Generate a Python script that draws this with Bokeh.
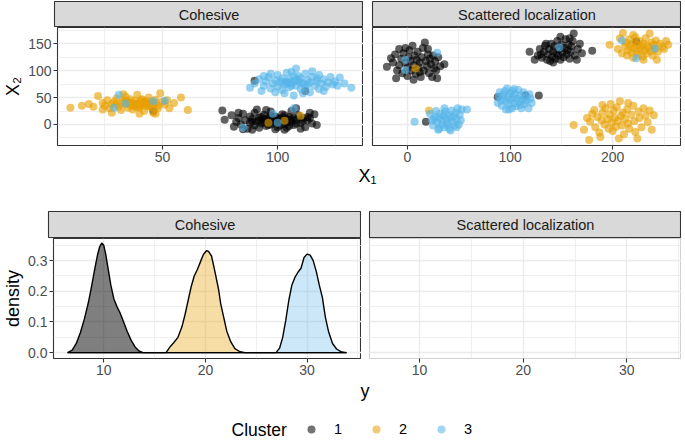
from bokeh.plotting import figure
from bokeh.layouts import column, row
from bokeh.models import Range1d, FixedTicker, Label, Legend, LegendItem, Grid, NumeralTickFormatter
from bokeh.core.properties import value
from bokeh.embed import file_html
from bokeh.resources import INLINE

FONT = "Liberation Sans"
COLORS = {"1": "#000000", "2": "#E69F00", "3": "#56B4E9"}
cluster_labels = ["1", "2", "3"]
facet_labels = ["Cohesive", "Scattered localization"]

# ---------------- scatter data (X1, X2) ----------------
cohesive_c1 = [(76,26),(77,9),(80,17),(81,-4),(82,5),(83,12),(84,0),(85,20),(86,8),(87,-8),
               (88,3),(88,15),(89,10),(90,-2),(90,22),(91,6),(92,13),(92,-6),(93,2),(94,9),
               (94,18),(95,-3),(96,5),(96,12),(97,0),(97,24),(98,8),(99,-9),(99,15),(100,4),
               (100,11),(101,-2),(102,7),(102,19),(103,1),(104,10),(104,-6),(105,14),(106,5),(106,25),
               (107,-1),(108,9),(108,30),(109,17),(110,3),(111,12),(112,-5),(113,8),(114,22),(115,2),
               (116,19),(117,-1),(95,27),(89,-10),(85,-9),(110,-8),(91,28),(103,-10),(114,12),(83,22),
               (92,8),(95,10),(98,3),(101,9),(104,4),(107,12),(93,14),(96,-1),(99,6),(102,13),
               (105,-3),(108,2),(111,7),(94,4),(97,16),(100,-5),(103,17),(106,10),(89,5),(113,14),
               (90,81),(112,62),(46,25)]
cohesive_c2 = [(10,31),(18,38),(20,33),(22,53),(24,40),(25,35),(26,45),(27,30),(28,38),(29,42),
               (30,36),(30,48),(31,33),(32,40),(32,27),(33,44),(34,38),(34,52),(35,31),(35,42),
               (36,36),(36,47),(37,40),(37,28),(38,34),(38,44),(39,38),(39,55),(40,41),(40,31),
               (41,36),(41,47),(42,39),(42,25),(43,43),(43,34),(44,38),(44,50),(45,32),(45,42),
               (46,36),(46,22),(47,40),(47,46),(48,35),(48,30),(49,58),(50,42),(51,37),(52,45),
               (53,30),(55,40),(58,50),(61,27),(28,22),(33,56),(40,20),(47,20),(24,28),(15,35),
               (36,40),(38,38),(40,36),(42,42),(44,35),(34,44),(39,32),(41,45),(37,35),(43,39),
               (96,3),(103,7),(110,16)]
cohesive_c3 = [(88,68),(90,76),(92,84),(93,62),(94,72),(95,80),(96,88),(97,67),(98,76),(99,82),
               (100,70),(100,92),(101,78),(102,64),(102,86),(103,74),(104,80),(104,96),(105,69),(105,84),
               (106,76),(107,54),(107,90),(108,72),(108,104),(109,80),(110,66),(110,86),(111,76),(112,94),
               (112,70),(113,82),(114,60),(114,78),(115,88),(116,72),(117,80),(118,66),(118,92),(119,76),
               (120,84),(121,70),(122,78),(123,88),(124,74),(125,80),(127,87),(129,76),(132,68),(97,94),
               (103,58),(115,99),(120,62),(111,58),(99,60),(106,98),(126,72),(94,90),(117,86),(109,90),
               (104,76),(107,80),(110,78),(106,72),(102,80),(108,84),(113,74),(105,78),
               (31,55),(34,39),(29,31),(46,43),(51,44),(98,20),(100,3),(85,-6),(107,30)]

scattered_c1 = [(-20,107),(-16,123),(-14,115),(-12,130),(-11,86),(-10,100),(-8,140),(-8,110),(-6,122),(-5,95),
                (-4,132),(-2,114),(0,90),(0,105),(1,125),(2,138),(3,118),(4,100),(5,146),(6,110),
                (7,128),(8,94),(9,120),(10,135),(11,106),(12,115),(13,88),(14,125),(15,142),(16,100),
                (17,152),(18,118),(19,108),(20,130),(21,95),(22,122),(23,112),(24,88),(25,128),(26,104),
                (27,117),(29,86),(30,125),(32,108),(36,112),(-2,142),(12,97),(6,83),(20,140),(28,100),
                (119,135),(124,120),(127,128),(129,140),(131,124),(133,135),(134,146),(136,120),(137,130),(138,140),
                (139,118),(140,150),(141,126),(142,136),(143,145),(144,122),(145,132),(146,155),(147,128),(148,140),
                (149,120),(150,148),(151,134),(152,125),(153,142),(154,158),(155,130),(156,138),(157,148),(158,122),
                (159,135),(160,145),(161,155),(162,169),(163,128),(165,120),(166,140),(168,150),(170,132),(180,137),
                (149,163),(135,150),(142,115),(158,160),(130,130),
                (88,51),(115,54),(128,54),(18,5),(223,154)]
scattered_c2 = [(197,148),(205,140),(207,160),(209,132),(210,170),(212,145),(213,152),(214,128),(215,138),(216,158),
                (217,146),(218,134),(219,150),(220,124),(221,142),(222,162),(223,136),(224,148),(225,130),(226,155),
                (227,140),(228,145),(229,126),(230,150),(231,138),(232,160),(233,132),(234,146),(235,142),(236,169),
                (237,136),(238,152),(239,128),(240,148),(241,140),(242,156),(243,120),(244,135),(246,150),(248,144),
                (250,140),(252,155),(254,148),(220,166),(230,120),
                (162,-1),(172,-10),(175,12),(177,-29),(178,5),(180,20),(182,27),(183,-5),(185,14),(187,-15),
                (188,-23),(189,8),(190,22),(192,0),(193,30),(195,10),(196,-8),(197,18),(198,38),(199,3),
                (200,-12),(201,26),(202,12),(203,-4),(204,32),(205,7),(206,-26),(207,43),(208,16),(209,-2),
                (210,22),(211,-18),(212,10),(214,28),(215,2),(216,-8),(218,18),(220,35),(221,6),(222,-14),
                (224,-26),(225,24),(226,12),(228,-5),(230,30),(232,16),(234,4),(236,26),(238,-10),(240,17),
                (190,36),(215,40),
                (21,26),(8,104)]
scattered_c3 = [(7,5),(22,20),(24,8),(25,-2),(27,15),(28,25),(29,4),(30,-10),(31,12),(32,20),
                (33,0),(34,8),(35,16),(36,-5),(37,24),(38,10),(39,3),(40,18),(41,-8),(42,12),
                (43,26),(44,5),(45,15),(46,-2),(47,22),(48,10),(49,30),(50,0),(51,18),(52,8),
                (53,28),(58,28),(42,-11),(31,-8),(36,30),(26,10),(48,-5),(39,-2),
                (88,40),(89,52),(90,60),(91,45),(92,35),(93,55),(94,48),(95,62),(96,28),(96,42),
                (97,67),(98,52),(99,38),(100,58),(101,46),(102,30),(102,62),(103,50),(104,40),(105,56),
                (106,34),(107,48),(108,64),(109,42),(110,54),(111,30),(112,46),(113,60),(114,38),(115,50),
                (116,44),(118,30),(119,56),(120,48),(121,40),(104,66),(99,28),(110,36),
                (29,133),(-2,120),(-2,101),(148,143),(223,123),(209,156),(241,141)]

# ---------------- density data (y, density) ----------------
dens_y_c1 = [6.45, 6.9, 7.3, 7.7, 8.1, 8.5, 8.8, 9.1, 9.4, 9.6, 9.8, 10.0, 10.2, 10.45, 10.7, 11.0,
             11.3, 11.6, 11.9, 12.3, 12.7, 13.1, 13.5, 13.87, 33.87]
dens_d_c1 = [0.0, 0.008, 0.03, 0.065, 0.11, 0.165, 0.215, 0.27, 0.32, 0.345, 0.357, 0.35, 0.32, 0.27, 0.22, 0.175,
             0.15, 0.13, 0.105, 0.07, 0.04, 0.018, 0.005, 0.0, 0.0]
dens_y_c2 = [6.45, 16.13, 16.5, 16.9, 17.3, 17.7, 18.0, 18.3, 18.6, 18.9, 19.2, 19.5, 19.8, 20.1, 20.3, 20.6,
             20.9, 21.3, 21.5, 21.8, 22.1, 22.5, 22.9, 23.4, 23.9, 33.87]
dens_d_c2 = [0.0, 0.0, 0.018, 0.033, 0.05, 0.085, 0.125, 0.17, 0.215, 0.25, 0.27, 0.295, 0.32, 0.332, 0.33, 0.315,
             0.27, 0.205, 0.16, 0.115, 0.07, 0.035, 0.013, 0.003, 0.0, 0.0]
dens_y_c3 = [6.45, 26.94, 27.3, 27.6, 27.9, 28.2, 28.5, 28.8, 29.1, 29.4, 29.7, 30.0, 30.3, 30.6, 30.9, 31.2,
             31.5, 31.8, 32.1, 32.5, 32.9, 33.4, 33.87]
dens_d_c3 = [0.0, 0.0, 0.015, 0.05, 0.105, 0.17, 0.22, 0.245, 0.262, 0.275, 0.31, 0.321, 0.318, 0.3, 0.265, 0.22,
             0.18, 0.115, 0.07, 0.03, 0.012, 0.002, 0.0]

# ticks
top_y_ticks = [0, 50, 100, 150]
top_y_minor = [-25, 25, 75, 125, 175]
coh_x_ticks = [50, 100]
coh_x_minor = [25, 75, 125]
sca_x_ticks = [0, 100, 200]
sca_x_minor = [50, 150, 250]
den_x_ticks = [10, 20, 30]
den_x_minor = [5, 15, 25, 35]
den_y_ticks = [0.0, 0.1, 0.2, 0.3]
den_y_minor = [0.05, 0.15, 0.25, 0.35]

GRID = "#EBEBEB"
BORDER = "#333333"


def style_axis(ax):
    ax.axis_line_color = None
    ax.major_tick_line_color = BORDER
    ax.major_tick_line_width = 1.1
    ax.major_tick_out = 4
    ax.major_tick_in = 0
    ax.minor_tick_line_color = None
    ax.major_label_text_font = FONT
    ax.major_label_text_font_size = "14px"
    ax.major_label_text_color = "#4D4D4D"
    ax.major_label_standoff = 2
    ax.axis_label_text_font = FONT
    ax.axis_label_text_font_size = "18px"
    ax.axis_label_text_font_style = "normal"
    ax.axis_label_text_color = "#000000"
    ax.axis_label_standoff = 2


def style_grid(g):
    g.grid_line_color = GRID
    g.grid_line_width = 1.4
    g.minor_grid_line_color = GRID
    g.minor_grid_line_width = 0.8


def no_grid(f):
    for g in f.grid:
        g.visible = False


def make_panel(width, mbl, frame_h, xr, yr, xt, xm, yt, ym, ylabel=None, yfmt=None, border=BORDER):
    p = figure(width=width, height=frame_h + 22, x_range=Range1d(*xr), y_range=Range1d(*yr),
               output_backend="svg", toolbar_location=None,
               y_axis_location="left" if ylabel else None,
               min_border_left=mbl, min_border_right=0, min_border_top=0, min_border_bottom=22)
    p.xaxis.ticker = FixedTicker(ticks=xt, minor_ticks=xm)
    p.xgrid.ticker = FixedTicker(ticks=xt, minor_ticks=xm)
    for ax in p.xaxis:
        style_axis(ax)
    if ylabel:
        p.yaxis.ticker = FixedTicker(ticks=yt, minor_ticks=ym)
        p.yaxis.axis_label = ylabel
        if yfmt:
            p.yaxis.formatter = NumeralTickFormatter(format=yfmt)
        for ax in p.yaxis:
            style_axis(ax)
    if len(p.ygrid) == 0:
        p.add_layout(Grid(dimension=1, ticker=FixedTicker(ticks=yt, minor_ticks=ym)))
    else:
        p.ygrid.ticker = FixedTicker(ticks=yt, minor_ticks=ym)
    for g in p.xgrid:
        style_grid(g)
    for g in p.ygrid:
        style_grid(g)
    p.outline_line_color = border
    p.outline_line_width = 1.1
    p.background_fill_color = "white"
    p.border_fill_color = "white"
    return p


def make_strip(width, height, mbl, text):
    s = figure(width=width, height=height, x_range=Range1d(0, 1), y_range=Range1d(0, 1),
               x_axis_location=None, y_axis_location=None, output_backend="svg", toolbar_location=None,
               min_border_left=mbl, min_border_right=0, min_border_top=1, min_border_bottom=0)
    no_grid(s)
    s.background_fill_color = "#D9D9D9"
    s.outline_line_color = BORDER
    s.outline_line_width = 1.1
    s.add_layout(Label(x=0.5, y=0.5, text=text, text_align="center", text_baseline="middle",
                       text_font=FONT, text_font_size="14.5px", text_color="#1A1A1A"))
    return s


def make_text_fig(h):
    f = figure(width=681, height=h, x_range=Range1d(0, 681), y_range=Range1d(0, 1),
               x_axis_location=None, y_axis_location=None, output_backend="svg", toolbar_location=None,
               min_border=0)
    no_grid(f)
    f.outline_line_color = None
    return f


def add_text(f, text, xpos, ypos, size, align="center"):
    f.add_layout(Label(x=xpos, y=ypos, text=text, text_align=align, text_baseline="middle",
                       text_font=FONT, text_font_size=size, text_color="#000000"))


TL_W, TR_W = 363, 318
BL_W, BR_W = 361, 320
TL_MBL, TR_MBL, BL_MBL, BR_MBL = 54, 9, 48, 8

# --- top row: scatter panels
strip_tl = make_strip(TL_W, 27, TL_MBL, facet_labels[0])
strip_tr = make_strip(TR_W, 27, TR_MBL, facet_labels[1])
p_tl = make_panel(TL_W, TL_MBL, 118, (4.4, 137.3), (-39, 180), coh_x_ticks, coh_x_minor,
                  top_y_ticks, top_y_minor, ylabel="X\u2082")
p_tr = make_panel(TR_W, TR_MBL, 118, (-34, 267), (-39, 180), sca_x_ticks, sca_x_minor,
                  top_y_ticks, top_y_minor)

for p, data in ((p_tl, (cohesive_c1, cohesive_c2, cohesive_c3)),
                (p_tr, (scattered_c1, scattered_c2, scattered_c3))):
    for lab, pts in zip(cluster_labels, data):
        p.scatter(x=[a for a, b in pts], y=[b for a, b in pts], size=8,
                  fill_color=COLORS[lab], fill_alpha=0.62, line_color=None)

# --- bottom row: density panels
strip_bl = make_strip(BL_W, 28, BL_MBL, facet_labels[0])
strip_br = make_strip(BR_W, 28, BR_MBL, facet_labels[1])
p_bl = make_panel(BL_W, BL_MBL, 120, (5.06, 35.35), (-0.019, 0.372), den_x_ticks, den_x_minor,
                  den_y_ticks, den_y_minor, ylabel="density", yfmt="0.0")
p_br = make_panel(BR_W, BR_MBL, 120, (5.18, 35.27), (-0.019, 0.372), den_x_ticks, den_x_minor,
                  den_y_ticks, den_y_minor, border="#D0D0D0")

fill_alpha = {"1": 0.5, "2": 0.35, "3": 0.3}
dens = (("1", dens_y_c1, dens_d_c1), ("2", dens_y_c2, dens_d_c2), ("3", dens_y_c3, dens_d_c3))
for lab, xs, ds in dens:
    p_bl.varea(x=xs, y1=[0] * len(xs), y2=ds, fill_color=COLORS[lab], fill_alpha=fill_alpha[lab])
for lab, xs, ds in dens:
    p_bl.line(x=xs, y=ds, line_color="black", line_width=1.4)

# --- X1 axis title row
x1_row = make_text_fig(43)
add_text(x1_row, "X\u2081", 367, 0.8, "18px")

# --- "y" axis title + legend row
# legend key renderers use the first point of each cluster, which lies outside this strip's range
lg = make_text_fig(60)
add_text(lg, "y", 364.5, 0.8167, "18px")
rs = []
for lab, pts in zip(cluster_labels, (cohesive_c1, cohesive_c2, cohesive_c3)):
    rs.append(lg.scatter(x=[pts[0][0]], y=[pts[0][1]], size=7, fill_color=COLORS[lab],
                         fill_alpha=0.55, line_color=None))
legend = Legend(items=[LegendItem(label=value(lab), renderers=[r]) for lab, r in zip(cluster_labels, rs)],
                orientation="horizontal", location=(301, 1), padding=0, margin=0, spacing=12,
                label_standoff=13, glyph_width=20, glyph_height=20, border_line_color=None,
                background_fill_alpha=0, label_text_font=FONT, label_text_font_size="14.5px",
                label_text_color="#000000")
lg.add_layout(legend)
add_text(lg, "Cluster", 231, 0.1833, "17.5px", align="left")

layout = column(row(strip_tl, strip_tr), row(p_tl, p_tr), x1_row,
                row(strip_bl, strip_br), row(p_bl, p_br), lg, spacing=0)

open("out.html", "w").write(file_html(layout, INLINE))
